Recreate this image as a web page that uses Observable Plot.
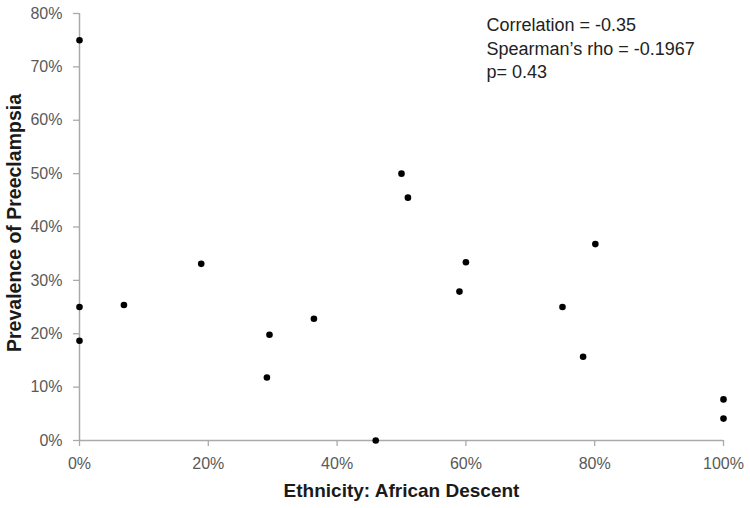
<!DOCTYPE html>
<html>
<head>
<meta charset="utf-8">
<script src="https://cdn.jsdelivr.net/npm/d3@7"></script>
<script src="https://cdn.jsdelivr.net/npm/@observablehq/plot@0.6"></script>
<style>
  html, body { margin: 0; padding: 0; background: #fff; }
  svg { display: block; }
</style>
</head>
<body>
<div id="chart"></div>
<script>
// Data
const africanDescent = [0, 0, 0, 6.9, 18.9, 29.1, 29.5, 36.4, 46.0, 50.0, 51.0, 59.0, 60.0, 75.0, 78.2, 80.1, 100, 100];
const preeclampsia   = [75, 25, 18.7, 25.4, 33.1, 11.8, 19.8, 22.8, 0, 50.0, 45.5, 27.9, 33.4, 25.0, 15.7, 36.8, 7.7, 4.1];
const xTicks = [0, 20, 40, 60, 80, 100];
const yTicks = [0, 10, 20, 30, 40, 50, 60, 70, 80];
const xTitle = "Ethnicity: African Descent";
const yTitle = "Prevalence of Preeclampsia";
const statsLines = ["Correlation = -0.35", "Spearman\u2019s rho = -0.1967", "p= 0.43"];

const points = africanDescent.map((x, i) => ({x, y: preeclampsia[i]}));
const pct = d => d + "%";

const chart = Plot.plot({
  width: 750,
  height: 508,
  marginLeft: 79,
  marginRight: 27,
  marginTop: 13,
  marginBottom: 68,
  style: {fontFamily: "Liberation Sans, Arial, sans-serif", background: "#fff"},
  x: {domain: [0, 100]},
  y: {domain: [0, 80]},
  marks: [
    Plot.axisX({ticks: xTicks, tickFormat: pct, tickSize: 6, tickPadding: 11, stroke: "#aaaaaa", strokeWidth: 1.3, fill: "#595959", fontSize: 16, label: null}),
    Plot.axisY({ticks: yTicks, tickFormat: pct, tickSize: 6, tickPadding: 11, stroke: "#aaaaaa", strokeWidth: 1.3, fill: "#595959", fontSize: 16, label: null}),
    Plot.ruleX([0], {stroke: "#aaaaaa", strokeWidth: 1.5}),
    Plot.ruleY([0], {stroke: "#aaaaaa", strokeWidth: 1.5}),
    Plot.dot(points, {x: "x", y: "y", r: 3.3, fill: "#000", stroke: null}),
    Plot.text([xTitle], {frameAnchor: "bottom", dy: 50, fontSize: 19, fontWeight: "bold", fill: "#1a1a1a", lineAnchor: "middle"}),
    Plot.text([yTitle], {frameAnchor: "left", dx: -65, dy: -4, rotate: -90, textAnchor: "middle", fontSize: 19.5, fontWeight: "bold", fill: "#1a1a1a", lineAnchor: "middle"}),
    Plot.text([statsLines.join("\n")], {frameAnchor: "top-left", textAnchor: "start", lineAnchor: "top", lineHeight: 1.3, dx: 407, dy: 1, fontSize: 18, fill: "#222"})
  ]
});
document.getElementById("chart").appendChild(chart);
</script>
</body>
</html>
